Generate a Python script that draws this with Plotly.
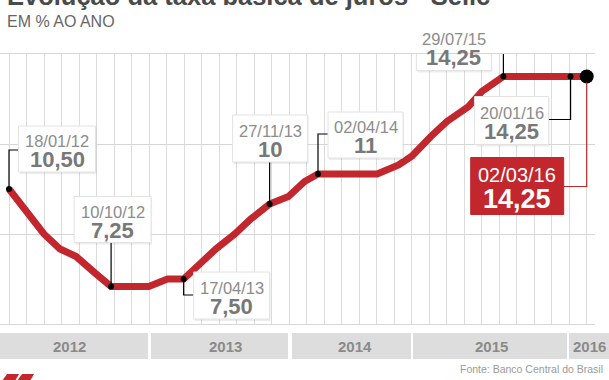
import plotly.graph_objects as go
import pandas as pd

# ---------------- data ----------------
title = "Evolução da taxa básica de juros - Selic"
subtitle = "EM % AO ANO"
source = "Fonte: Banco Central do Brasil"

dates = ["2012-01-18", "2012-03-07", "2012-04-18", "2012-05-30", "2012-07-11",
         "2012-08-29", "2012-10-10", "2012-11-28", "2013-01-16", "2013-03-06",
         "2013-04-17", "2013-05-29", "2013-07-10", "2013-08-28", "2013-10-09",
         "2013-11-27", "2014-01-15", "2014-02-26", "2014-04-02", "2014-05-28",
         "2014-07-16", "2014-09-03", "2014-10-29", "2014-12-03", "2015-01-21",
         "2015-03-04", "2015-04-29", "2015-06-03", "2015-07-29", "2015-09-02",
         "2015-10-21", "2015-11-25", "2016-01-20", "2016-03-02"]
selic = [10.50, 9.70, 9.00, 8.50, 8.25,
         7.70, 7.25, 7.25, 7.25, 7.50,
         7.50, 8.00, 8.50, 9.00, 9.50,
         10.00, 10.25, 10.75, 11.00, 11.00,
         11.00, 11.00, 11.30, 11.60, 12.25,
         12.75, 13.25, 13.75, 14.25, 14.25,
         14.25, 14.25, 14.25, 14.25]

label_dates = ["2012-01-18", "2012-10-10", "2013-04-17", "2013-11-27",
               "2014-04-02", "2015-07-29", "2016-01-20", "2016-03-02"]

years = ["2012", "2013", "2014", "2015", "2016"]

# ---------------- styling / layout ----------------
RED = "#c1272d"
W, H = 609, 380
L, R, T, B = 0, 14, 54, 56
PXW = W - L - R
PXH = H - T - B
FONT = "Liberation Sans, Arial, sans-serif"

# label box layout: center offset (dx, dy) in screen px from the point, size, leader polyline (screen px)
box_layout = [
    dict(dx=48, dy=-40, w=77, h=46, lead=[(0, 0), (0, -39), (10, -39)]),
    dict(dx=1.5, dy=-67, w=77, h=46, lead=[(0, 0), (0, -44)]),
    dict(dx=48, dy=16.5, w=76, h=47, lead=[(0, 0), (0, 16), (10, 16)]),
    dict(dx=0.5, dy=-65.5, w=75, h=47, lead=[(0, 0), (0, -42)]),
    dict(dx=47.5, dy=-39, w=75, h=46, lead=[(0, 0), (0, -40), (10, -40)]),
    dict(dx=-49.5, dy=-29.5, w=75, h=47, lead=[(0, 0), (0, -28), (-12, -28)]),
    dict(dx=-59, dy=44, w=74, h=48, lead=[(0, 0), (0, 43), (-22, 43)]),
    dict(dx=-69.5, dy=109.5, w=93, h=57, lead=[(0, 6), (0, 110), (-23, 110)], red=True),
]
band_px = [(0, 148), (151, 288), (292, 411), (413, 567), (569, 609)]
year_label_px = [69, 225, 355, 491, 589]
N_GRID = 33          # vertical grid intervals between first and last date
FIRST_GRID_PX = 9    # pixel position of the first date
GRID_PX = 17.506     # pixel spacing of the vertical grid


def px2paper(px, py):
    return (px - L) / PXW, (T + PXH - py) / PXH


def fmt_val(v):
    if float(v).is_integer():
        return str(int(v))
    return f"{v:.2f}".replace(".", ",")


start = pd.Timestamp(dates[0])


def day(d):
    return (pd.Timestamp(d) - start) / pd.Timedelta(days=1)


x_days = [day(d) for d in dates]
val_of = dict(zip(dates, selic))
label_vals = [val_of[d] for d in label_dates]
label_x = [day(d) for d in label_dates]

span = day(dates[-1])
grid_step = span / N_GRID
px_per_day = GRID_PX / grid_step
x_left = -FIRST_GRID_PX / px_per_day
x_right = (PXW - FIRST_GRID_PX) / px_per_day

fig = go.Figure()
fig.add_trace(go.Scatter(x=x_days, y=selic, mode="lines",
                         line=dict(color=RED, width=7), hoverinfo="skip"))
fig.add_trace(go.Scatter(x=label_x[:-1], y=label_vals[:-1], mode="markers",
                         marker=dict(color="black", size=6), hoverinfo="skip"))
fig.add_trace(go.Scatter(x=label_x[-1:], y=label_vals[-1:], mode="markers",
                         marker=dict(color="black", size=14), hoverinfo="skip"))

shapes = []
annotations = []
for d, xv, v, bl in zip(label_dates, label_x, label_vals, box_layout):
    is_red = bl.get("red", False)
    x0, x1 = bl["dx"] - bl["w"] / 2, bl["dx"] + bl["w"] / 2
    y0, y1 = -bl["dy"] - bl["h"] / 2, -bl["dy"] + bl["h"] / 2
    path = "M" + " L".join(f"{px},{-py}" for px, py in bl["lead"])
    shapes.append(dict(type="path", xref="x", yref="y", xsizemode="pixel", ysizemode="pixel",
                       xanchor=xv, yanchor=v, path=path, layer="above",
                       line=dict(color=RED if is_red else "black", width=1.2)))
    if not is_red:
        shapes.append(dict(type="rect", xref="x", yref="y", xsizemode="pixel", ysizemode="pixel",
                           xanchor=xv, yanchor=v, x0=x0 + 1, x1=x1 + 1, y0=y0 - 2, y1=y1 - 1,
                           fillcolor="rgba(0,0,0,0.07)", line=dict(width=0), layer="above"))
    shapes.append(dict(type="rect", xref="x", yref="y", xsizemode="pixel", ysizemode="pixel",
                       xanchor=xv, yanchor=v, x0=x0, x1=x1, y0=y0, y1=y1,
                       fillcolor=RED if is_red else "white",
                       line=dict(color=RED if is_red else "#e2e2e2", width=1), layer="above"))
    date_txt = pd.Timestamp(d).strftime("%d/%m/%y")
    if is_red:
        annotations.append(dict(x=xv, y=v, xref="x", yref="y", showarrow=False, text=date_txt,
                                xshift=bl["dx"], yshift=-(bl["dy"] - 11.5),
                                font=dict(family=FONT, size=20, color="white")))
        annotations.append(dict(x=xv, y=v, xref="x", yref="y", showarrow=False,
                                text="<b>" + fmt_val(v) + "</b>",
                                xshift=bl["dx"], yshift=-(bl["dy"] + 12.5),
                                font=dict(family=FONT, size=27, color="white")))
    else:
        annotations.append(dict(x=xv, y=v, xref="x", yref="y", showarrow=False, text=date_txt,
                                xshift=bl["dx"], yshift=-(bl["dy"] - 8),
                                font=dict(family=FONT, size=16.5, color="#8c8c8c")))
        annotations.append(dict(x=xv, y=v, xref="x", yref="y", showarrow=False,
                                text="<b>" + fmt_val(v) + "</b>",
                                xshift=bl["dx"], yshift=-(bl["dy"] + 10.5),
                                font=dict(family=FONT, size=22, color="#787878")))

# year bands below the plot
for yr, (a, b), c in zip(years, band_px, year_label_px):
    xa, ya = px2paper(a, 333)
    xb, yb = px2paper(b, 359)
    shapes.append(dict(type="rect", xref="paper", yref="paper", x0=xa, x1=xb, y0=yb, y1=ya,
                       fillcolor="#dddddd", line=dict(width=0), layer="above"))
    xc, yc = px2paper(c, 346)
    annotations.append(dict(x=xc, y=yc, xref="paper", yref="paper", showarrow=False, text="<b>" + yr + "</b>",
                            font=dict(family=FONT, size=15, color="#8a8a8a"), xanchor="center", yanchor="middle"))


# logo fragment at bottom-left
def poly(pts):
    return "M" + " L".join(f"{px2paper(x, y)[0]},{px2paper(x, y)[1]}" for x, y in pts) + " Z"


shapes.append(dict(type="path", xref="paper", yref="paper", path=poly([(2, 381), (7, 374), (19, 374), (15, 381)]),
                   fillcolor=RED, line=dict(width=0), layer="above"))
shapes.append(dict(type="path", xref="paper", yref="paper", path=poly([(17, 381), (22, 374), (34, 374), (30, 381)]),
                   fillcolor=RED, line=dict(width=0), layer="above"))

tx, ty = px2paper(5, -3.5)
annotations.append(dict(x=tx, y=ty, xref="paper", yref="paper", showarrow=False, text="<b>" + title + "</b>",
                        xanchor="left", yanchor="middle",
                        font=dict(family=FONT, size=25.5, color="#4a4a4a")))
sx, sy = px2paper(5, 21)
annotations.append(dict(x=sx, y=sy, xref="paper", yref="paper", showarrow=False, text=subtitle,
                        xanchor="left", yanchor="middle",
                        font=dict(family=FONT, size=16, color="#666666")))
fx, fy = px2paper(605, 369)
annotations.append(dict(x=fx, y=fy, xref="paper", yref="paper", showarrow=False, text=source,
                        xanchor="right", yanchor="middle",
                        font=dict(family=FONT, size=10.5, color="#9a9a9a")))

fig.update_layout(
    width=W, height=H,
    margin=dict(l=L, r=R, t=T, b=B, pad=0),
    paper_bgcolor="white", plot_bgcolor="white",
    showlegend=False,
    shapes=shapes,
    annotations=annotations,
    xaxis=dict(range=[x_left, x_right], showticklabels=False, ticks="",
               tickmode="linear", tick0=0, dtick=grid_step,
               showgrid=True, gridcolor="#dcdcdc", gridwidth=1,
               showline=True, mirror=True, linecolor="#d6d6d6", linewidth=1, zeroline=False),
    yaxis=dict(range=[6, 15], tickmode="linear", tick0=6, dtick=3, showticklabels=False, ticks="",
               showgrid=True, gridcolor="#d6d6d6", gridwidth=1, zeroline=False, showline=False),
)

fig.write_html("out.html", config={"displayModeBar": False},
               post_script="document.body.style.margin='0';document.body.style.overflow='hidden';")
